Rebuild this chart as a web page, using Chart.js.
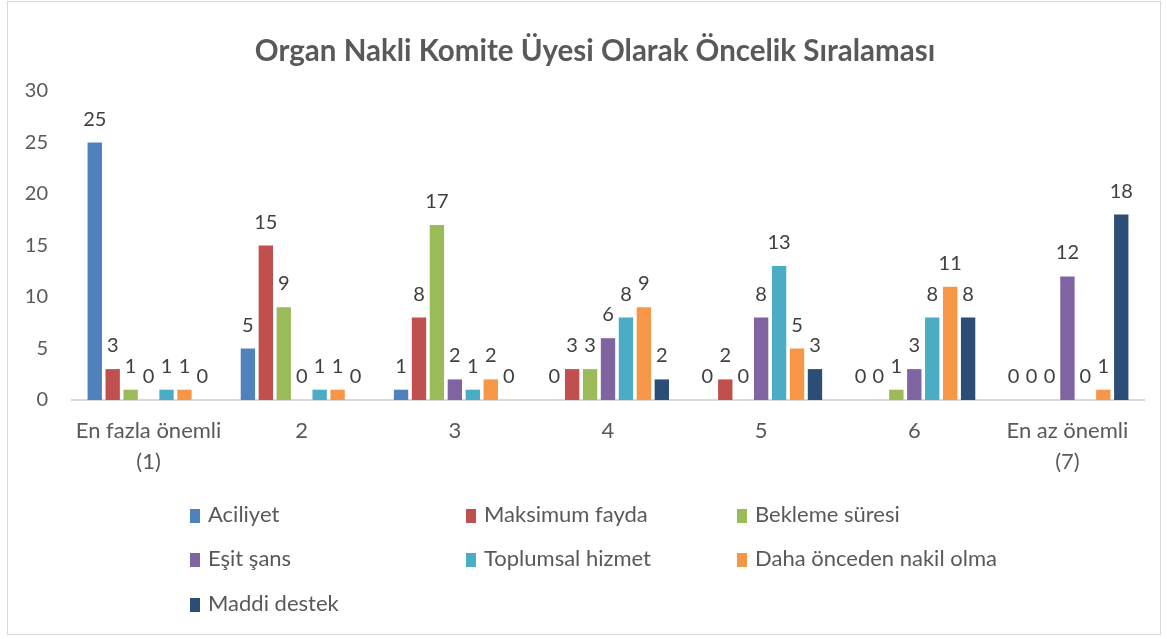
<!DOCTYPE html>
<html>
<head>
<meta charset="utf-8">
<script src="https://cdn.jsdelivr.net/npm/chart.js@4/dist/chart.umd.min.js"></script>
<style>
  html, body { margin:0; padding:0; background:#fff; }
  #wrap { position:relative; width:1167px; height:639px; overflow:hidden; }
  #frame { position:absolute; left:7px; top:1px; width:1154px; height:634px; border:1px solid #d9d9d9; box-sizing:border-box; }
  #c { position:absolute; left:0; top:0; }
  .lg { position:absolute; font-family: Lato, "Noto Sans", sans-serif; font-size:22px; color:#595959; white-space:nowrap; line-height:22px; }
  .lg i { display:inline-block; width:10px; height:14px; margin-right:8px; vertical-align:-1px; }
</style>
</head>
<body>
<div id="wrap">
  <div id="frame"></div>
  <canvas id="c" width="1167" height="639"></canvas>
  <div id="legend"></div>
</div>
<script>
const titleText = "Organ Nakli Komite Üyesi Olarak Öncelik Sıralaması";
const categories = [["En fazla önemli", "(1)"], "2", "3", "4", "5", "6", ["En az önemli", "(7)"]];
const seriesNames = ["Aciliyet", "Maksimum fayda", "Bekleme süresi", "Eşit şans", "Toplumsal hizmet", "Daha önceden nakil olma", "Maddi destek"];
const aciliyet        = [25, 5, 1, 0, 0, 0, 0];
const maksimumFayda   = [3, 15, 8, 3, 2, 0, 0];
const beklemeSuresi   = [1, 9, 17, 3, 0, 1, 0];
const esitSans        = [0, 0, 2, 6, 8, 3, 12];
const toplumsalHizmet = [1, 1, 1, 8, 13, 8, 0];
const dahaOnceden     = [1, 1, 2, 9, 5, 11, 1];
const maddiDestek     = [0, 0, 0, 2, 3, 8, 18];
const yTicks = [0, 5, 10, 15, 20, 25, 30];
const colors = ["#4F81BD", "#C0504D", "#9BBB59", "#8064A2", "#4BACC6", "#F79646", "#2C4D75"];

const seriesValues = [aciliyet, maksimumFayda, beklemeSuresi, esitSans, toplumsalHizmet, dahaOnceden, maddiDestek];
const FONT = 'Lato, "Noto Sans", sans-serif';

const valueLabels = {
  id: 'valueLabels',
  afterDatasetsDraw(chart) {
    const ctx = chart.ctx;
    ctx.save();
    ctx.font = '20px ' + FONT;
    ctx.fillStyle = '#404040';
    ctx.textAlign = 'center';
    ctx.textBaseline = 'alphabetic';
    chart.data.datasets.forEach((ds, i) => {
      const meta = chart.getDatasetMeta(i);
      meta.data.forEach((bar, j) => {
        ctx.fillText(String(ds.data[j]), bar.x, bar.y - 17);
      });
    });
    ctx.restore();
  }
};

const titlePlugin = {
  id: 'fixedTitle',
  afterDraw(chart) {
    const ctx = chart.ctx;
    ctx.save();
    ctx.font = 'bold 29.5px ' + FONT;
    ctx.fillStyle = '#595959';
    ctx.textAlign = 'center';
    ctx.textBaseline = 'alphabetic';
    ctx.fillText(titleText, 595, 61);
    ctx.restore();
  }
};

const chart = new Chart(document.getElementById('c'), {
  type: 'bar',
  data: {
    labels: categories,
    datasets: seriesNames.map((n, i) => ({
      label: n,
      data: seriesValues[i],
      backgroundColor: colors[i],
      borderWidth: 0,
      categoryPercentage: 0.82,
      barPercentage: 0.8
    }))
  },
  options: {
    responsive: false,
    animation: false,
    devicePixelRatio: 1,
    layout: { padding: { left: 25, right: 23, top: 91, bottom: 149 } },
    plugins: {
      legend: { display: false },
      tooltip: { enabled: false },
      title: { display: false }
    },
    scales: {
      x: {
        grid: { display: false, drawTicks: false },
        border: { display: true, color: '#d9d9d9', width: 2 },
        ticks: { color: '#595959', font: { family: FONT, size: 22, lineHeight: 1.4 }, padding: 16, maxRotation: 0, autoSkip: false },
        afterFit(s) { s.height = 90; }
      },
      y: {
        min: 0, max: 30,
        grid: { display: false, drawTicks: false },
        border: { display: false },
        afterBuildTicks(s) { s.ticks = yTicks.map(v => ({ value: v })); },
        ticks: { color: '#595959', font: { family: FONT, size: 20 }, padding: 24 },
        afterFit(s) { s.width = 47; }
      }
    }
  },
  plugins: [valueLabels, titlePlugin]
});

// legend built from the chart's datasets, 3 fixed columns
const legendCols = [190, 466, 737];
const legendRows = [514, 558, 603];
const lg = document.getElementById('legend');
chart.data.datasets.forEach((ds, i) => {
  const d = document.createElement('div');
  d.className = 'lg';
  d.style.left = legendCols[i % 3] + 'px';
  d.style.top = (legendRows[Math.floor(i / 3)] - 11) + 'px';
  const b = document.createElement('i');
  b.style.background = ds.backgroundColor;
  d.appendChild(b);
  d.appendChild(document.createTextNode(ds.label));
  lg.appendChild(d);
});
</script>
</body>
</html>
